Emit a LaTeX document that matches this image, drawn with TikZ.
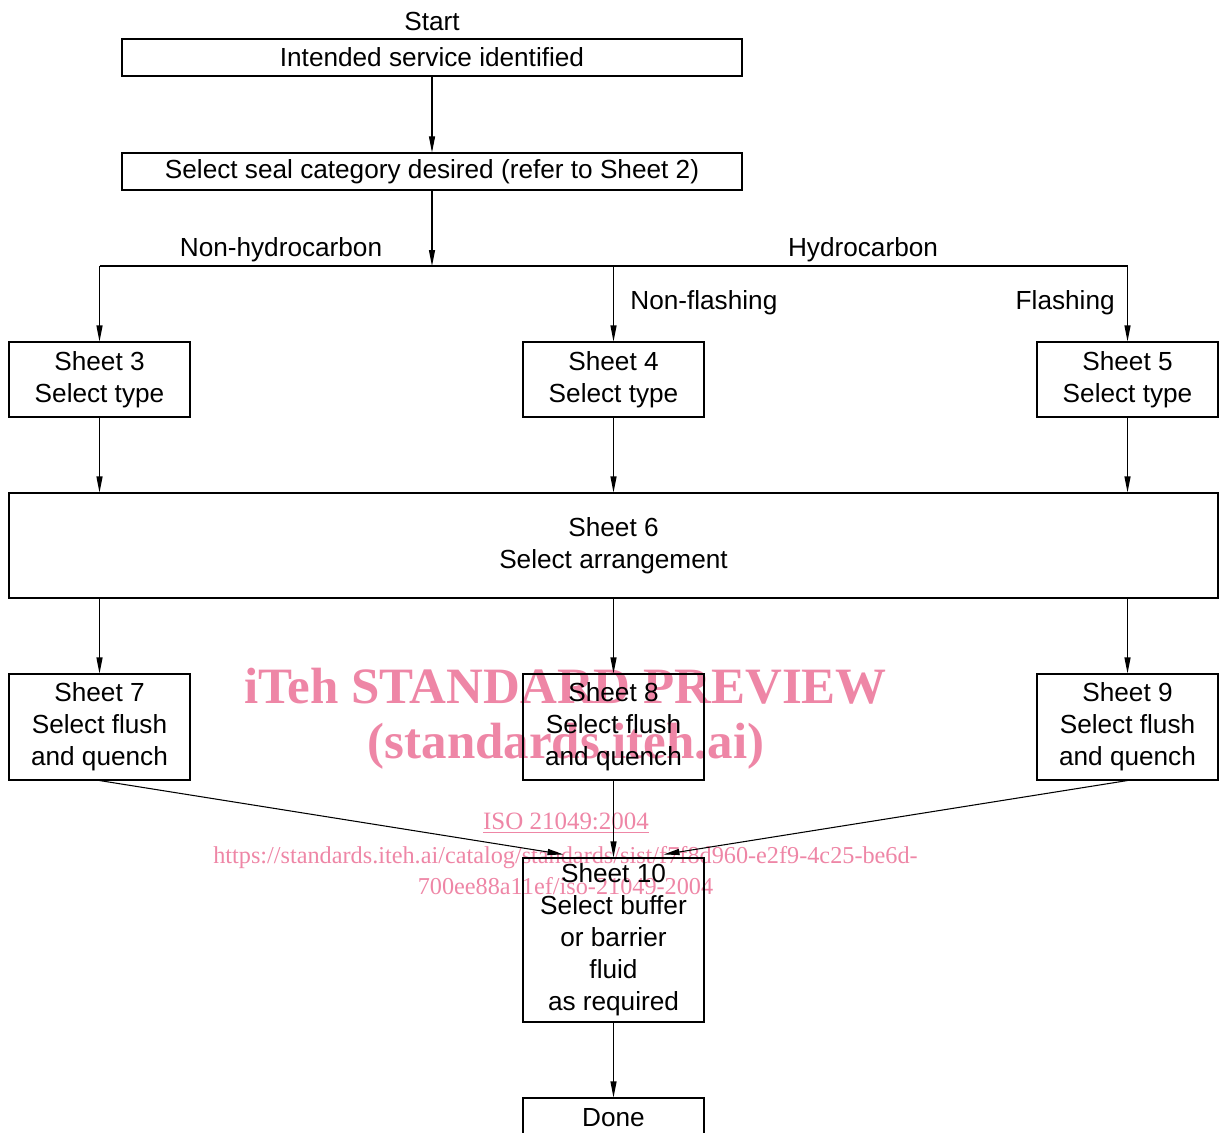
\documentclass[tikz,border=0pt]{standalone}
\definecolor{wmpink}{RGB}{238,134,166}
\usepackage{fontspec}
\setmainfont{Liberation Sans}
\newfontfamily\wmfont{Liberation Serif}
\usepackage{tikz}
\usetikzlibrary{arrows.meta, positioning, calc}

\begin{document}
\begin{tikzpicture}[
  box/.style={draw, line width=0.6pt, align=center, inner sep=0pt, font=\fontsize{14.9}{18.2}\selectfont},
  sheet/.style={box, minimum width=3.62cm, minimum height=1.5cm},
  lbl/.style={inner sep=0pt, font=\fontsize{14.9}{18.2}\selectfont},
  flow/.style={line width=0.6pt, -{Triangle[length=3.2mm, width=1.2mm]}},
  wm/.style={text=wmpink, inner sep=0pt, align=center}
]
  \clip (0,0) rectangle (24.42,-22.66);

  % Watermark (behind the chart)
  \node[wm, font=\wmfont\bfseries\fontsize{29}{30}\selectfont] (wmtitle) at (11.31,-13.72) {iTeh STANDARD PREVIEW};
  \node[wm, font=\wmfont\bfseries\fontsize{29}{30}\selectfont] (wmsite) at (11.32,-14.92) {(standards.iteh.ai)};
  \node[wm, font=\wmfont\fontsize{14.2}{17.6}\selectfont] (wmiso) at (11.32,-16.46) {\underline{ISO 21049:2004}};
  \node[wm, font=\wmfont\fontsize{13.8}{17.6}\selectfont] (wmurl) at (11.31,-17.41) {https://standards.iteh.ai/catalog/standards/sist/f7f8d960-e2f9-4c25-be6d-\\700ee88a11ef/iso-21049-2004};

  % Start and seal category
  \node[lbl] (start) at (8.64,-0.42) {Start};
  \node[box, minimum width=12.4cm, minimum height=0.74cm] (intent) at (8.64,-1.15) {Intended service identified};
  \node[box, minimum width=12.4cm, minimum height=0.74cm] (cat) at (8.64,-3.43) {Select seal category desired (refer to Sheet 2)};
  \coordinate (split) at (8.64,-5.32);

  % Type selection
  \node[sheet] (s3) at (1.99,-7.59) {Sheet 3\\Select type};
  \node[sheet] (s4) at (12.27,-7.59) {Sheet 4\\Select type};
  \node[sheet] (s5) at (22.55,-7.59) {Sheet 5\\Select type};
  \node[lbl] (nonhc) at (5.62,-5.0) {Non-hydrocarbon};
  \node[lbl] (hc) at (17.26,-5.0) {Hydrocarbon};
  \node[lbl, anchor=west] (nonfl) at (12.6,-6.06) {Non-flashing};
  \node[lbl, anchor=east] (fl) at (22.3,-6.06) {Flashing};

  % Arrangement
  \node[box, minimum width=24.18cm, minimum height=2.1cm] (s6) at (12.27,-10.91) {Sheet 6\\Select arrangement};

  % Flush and quench
  \node[sheet, minimum height=2.12cm] (s7) at (1.99,-14.54) {Sheet 7\\Select flush\\and quench};
  \node[sheet, minimum height=2.12cm] (s8) at (12.27,-14.54) {Sheet 8\\Select flush\\and quench};
  \node[sheet, minimum height=2.12cm] (s9) at (22.55,-14.54) {Sheet 9\\Select flush\\and quench};

  % Buffer fluid and end
  \node[sheet, minimum height=3.28cm] (s10) at (12.27,-18.8) {Sheet 10\\Select buffer\\or barrier\\fluid\\as required};
  \node[box, minimum width=3.62cm, minimum height=0.8cm] (done) at (12.27,-22.36) {Done};
  \coordinate (s10l) at ($(s10.north)+(-1.0,0.06)$);
  \coordinate (s10r) at ($(s10.north)+(1.0,0.06)$);

  % Connectors
  \draw[flow] (intent) -- (cat);
  \draw[flow] (cat) -- (split);
  \draw[line width=0.6pt] (s3.north |- split) -- (s5.north |- split);
  \draw[flow] (s3.north |- split) -- (s3);
  \draw[flow] (s4.north |- split) -- (s4);
  \draw[flow] (s5.north |- split) -- (s5);
  \draw[flow] (s3) -- (s3 |- s6.north);
  \draw[flow] (s4) -- (s6);
  \draw[flow] (s5) -- (s5 |- s6.north);
  \draw[flow] (s6.south -| s7) -- (s7);
  \draw[flow] (s6) -- (s8);
  \draw[flow] (s6.south -| s9) -- (s9);
  \draw[flow] (s7.south) -- (s10l);
  \draw[flow] (s8) -- (s10);
  \draw[flow] (s9.south) -- (s10r);
  \draw[flow] (s10) -- (done);
\end{tikzpicture}
\end{document}
